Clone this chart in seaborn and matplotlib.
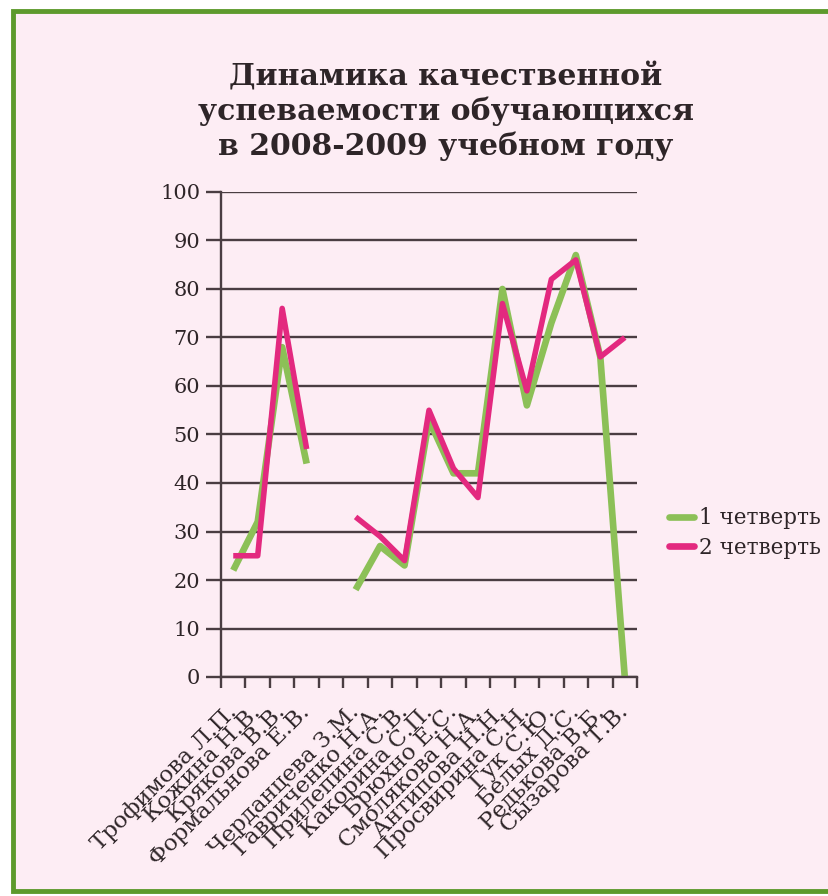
import numpy as np
import pandas as pd
import seaborn as sns
import matplotlib.pyplot as plt
from matplotlib.patches import Rectangle
from matplotlib.transforms import ScaledTranslation

# Data
teachers = ["Трофимова Л.П.", "Кожина Н.В.", "Крякова В.В.", "Формальнова Е.В.",
            "", "Черданцева З.М.", "Гавриченко Н.А.", "Прилепина С.В.",
            "Какорина С.П.", "Брюхно Е.С.", "Смолякова Н.А.", "Антипова Н.Н.",
            "Просвирина С.Н.", "Гук С.Ю.", "Белых Д.С.", "Редькова В.Б.",
            "Сызарова Т.В."]
q1 = [22, 32, 68, 44, np.nan, 18, 27, 23, 53, 42, 42, 80, 56, 73, 87, 66, 0]
q2 = [25, 25, 76, 47, np.nan, 33, 29, 24, 55, 43, 37, 77, 59, 82, 86, 66, 70]
series_names = ["1 четверть", "2 четверть"]
yticks = list(range(0, 101, 10))

BG = "#fdedf4"
GREEN = "#8cc057"
PINK = "#e3297f"
DARK = "#4a3d42"
TEXT = "#2e2528"

sns.set_theme(style="white")
plt.rcParams["font.family"] = ["DejaVu Serif", "Liberation Serif"]

# long-form table, with a segment id so the gap is not bridged
rows = []
for name, vals in zip(series_names, [q1, q2]):
    seg = 0
    for i, v in enumerate(vals):
        if np.isnan(v):
            seg += 1
            continue
        rows.append({"x": i, "value": v, "quarter": name, "seg": seg})
df = pd.DataFrame(rows)

fig = plt.figure(figsize=(8.29, 8.96), dpi=100)
fig.patch.set_facecolor("white")
fig.patches.append(Rectangle((13 / 829, 5 / 896), 1.2, 1 - 16 / 896,
                             transform=fig.transFigure, facecolor=BG,
                             edgecolor="#5d9a2c", linewidth=3.5, zorder=-10))

ax = fig.add_axes([221 / 829, 1 - 677 / 896, 416 / 829, 485 / 896])
ax.set_facecolor(BG)

sns.lineplot(data=df, x="x", y="value", hue="quarter", units="seg",
             estimator=None, palette=[GREEN, PINK], linewidth=4.2,
             sort=False, ax=ax, legend=False)
for line, lw in zip(ax.lines, [4.8, 4.8, 4.0, 4.0]):
    line.set_linewidth(lw)
    line.set_solid_capstyle("butt")

ax.set_xlim(-0.5, len(teachers) - 0.5)
ax.set_ylim(0, 100)
ax.set_yticks(yticks)
ax.yaxis.grid(True, color=DARK, linewidth=1.7)
ax.set_axisbelow(True)
for side in ["top", "right"]:
    ax.spines[side].set_visible(False)
for side in ["left", "bottom"]:
    ax.spines[side].set_color(DARK)
    ax.spines[side].set_linewidth(1.7)

ax.set_xticks(range(len(teachers)))
ax.set_xticklabels(teachers, rotation=45, ha="right", va="center",
                   rotation_mode="anchor", fontsize=16.5, color=TEXT)
shift = ScaledTranslation(4 / 100, 0, fig.dpi_scale_trans)
for lab in ax.get_xticklabels():
    lab.set_transform(lab.get_transform() + shift)
ax.set_xticks(np.arange(-0.5, len(teachers)), minor=True)
ax.tick_params(axis="x", which="major", length=0, pad=23)
ax.tick_params(axis="x", which="minor", length=8, width=1.7, color=DARK,
               direction="out", bottom=True)
ax.tick_params(axis="y", length=11, width=1.7, color=DARK, direction="out",
               left=True, labelsize=15, labelcolor=TEXT, pad=4)
ax.set_xlabel("")
ax.set_ylabel("")

fig.text(446 / 829, 0.93, "Динамика качественной\nуспеваемости обучающихся\nв 2008-2009 учебном году",
         ha="center", va="top", fontsize=21.5, fontweight="bold",
         color=TEXT, linespacing=1.22)

handles = [plt.Line2D([], [], color=GREEN, linewidth=4.8),
           plt.Line2D([], [], color=PINK, linewidth=4.8)]
fig.legend(handles, series_names, loc="center left",
           bbox_to_anchor=(660 / 829, 1 - 533 / 896), frameon=False,
           fontsize=15.5, handlelength=1.2, handletextpad=0.2,
           labelspacing=0.35, borderaxespad=0, labelcolor=TEXT)

fig.savefig("out.png", dpi=100, facecolor=fig.get_facecolor())
